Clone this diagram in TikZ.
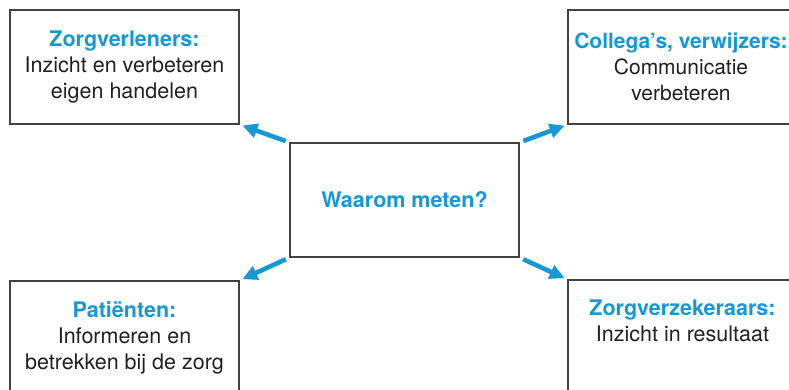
\documentclass[tikz,border=0pt]{standalone}
\usepackage{fontspec}
\setmainfont{TeX Gyre Heros}
\usetikzlibrary{arrows.meta}
\definecolor{meetblauw}{RGB}{20,152,214}
\definecolor{donker}{RGB}{35,31,32}

\begin{document}
\begin{tikzpicture}[x=1pt, y=1pt,
  box/.style={draw=donker!85, line width=1.1pt, minimum width=229pt, minimum height=114pt,
              align=center, inner sep=0pt, font=\fontsize{21.5}{26}\selectfont, text=donker},
  arr/.style={draw=meetblauw, line width=4.6pt,
              -{Triangle[length=15pt, width=14pt]}, shorten <=4pt, shorten >=3pt}]
  \useasboundingbox (0,0) rectangle (789,390);
  % centre box
  \node[box] (mid) at (404.5,190) {\textcolor{meetblauw}{\bfseries Waarom meten?}};
  % the four groups
  \node[box] (zv) at (124.5,323)
    {\textcolor{meetblauw}{\bfseries Zorgverleners:}\\Inzicht en verbeteren\\eigen handelen};
  \node[box, minimum width=226pt, font=\fontsize{21}{26}\selectfont] (cv) at (681,323)
    {\textcolor{meetblauw}{\bfseries Collega’s, verwijzers:}\\Communicatie\\verbeteren};
  \node[box] (pt) at (124.5,52)
    {\textcolor{meetblauw}{\bfseries Patiënten:}\\Informeren en\\betrekken bij de zorg};
  \node[box] (zk) at (682.5,53)
    {\textcolor{meetblauw}{\bfseries Zorgverzekeraars:}\\Inzicht in resultaat\\[6pt]};
  % arrows out of the centre
  \draw[arr] (mid.north west) -- (zv.south east);
  \draw[arr] (mid.north east) -- (cv.south west);
  \draw[arr] (mid.south west) -- (pt.north east);
  \draw[arr] (mid.south east) -- (zk.north west);
\end{tikzpicture}
\end{document}
